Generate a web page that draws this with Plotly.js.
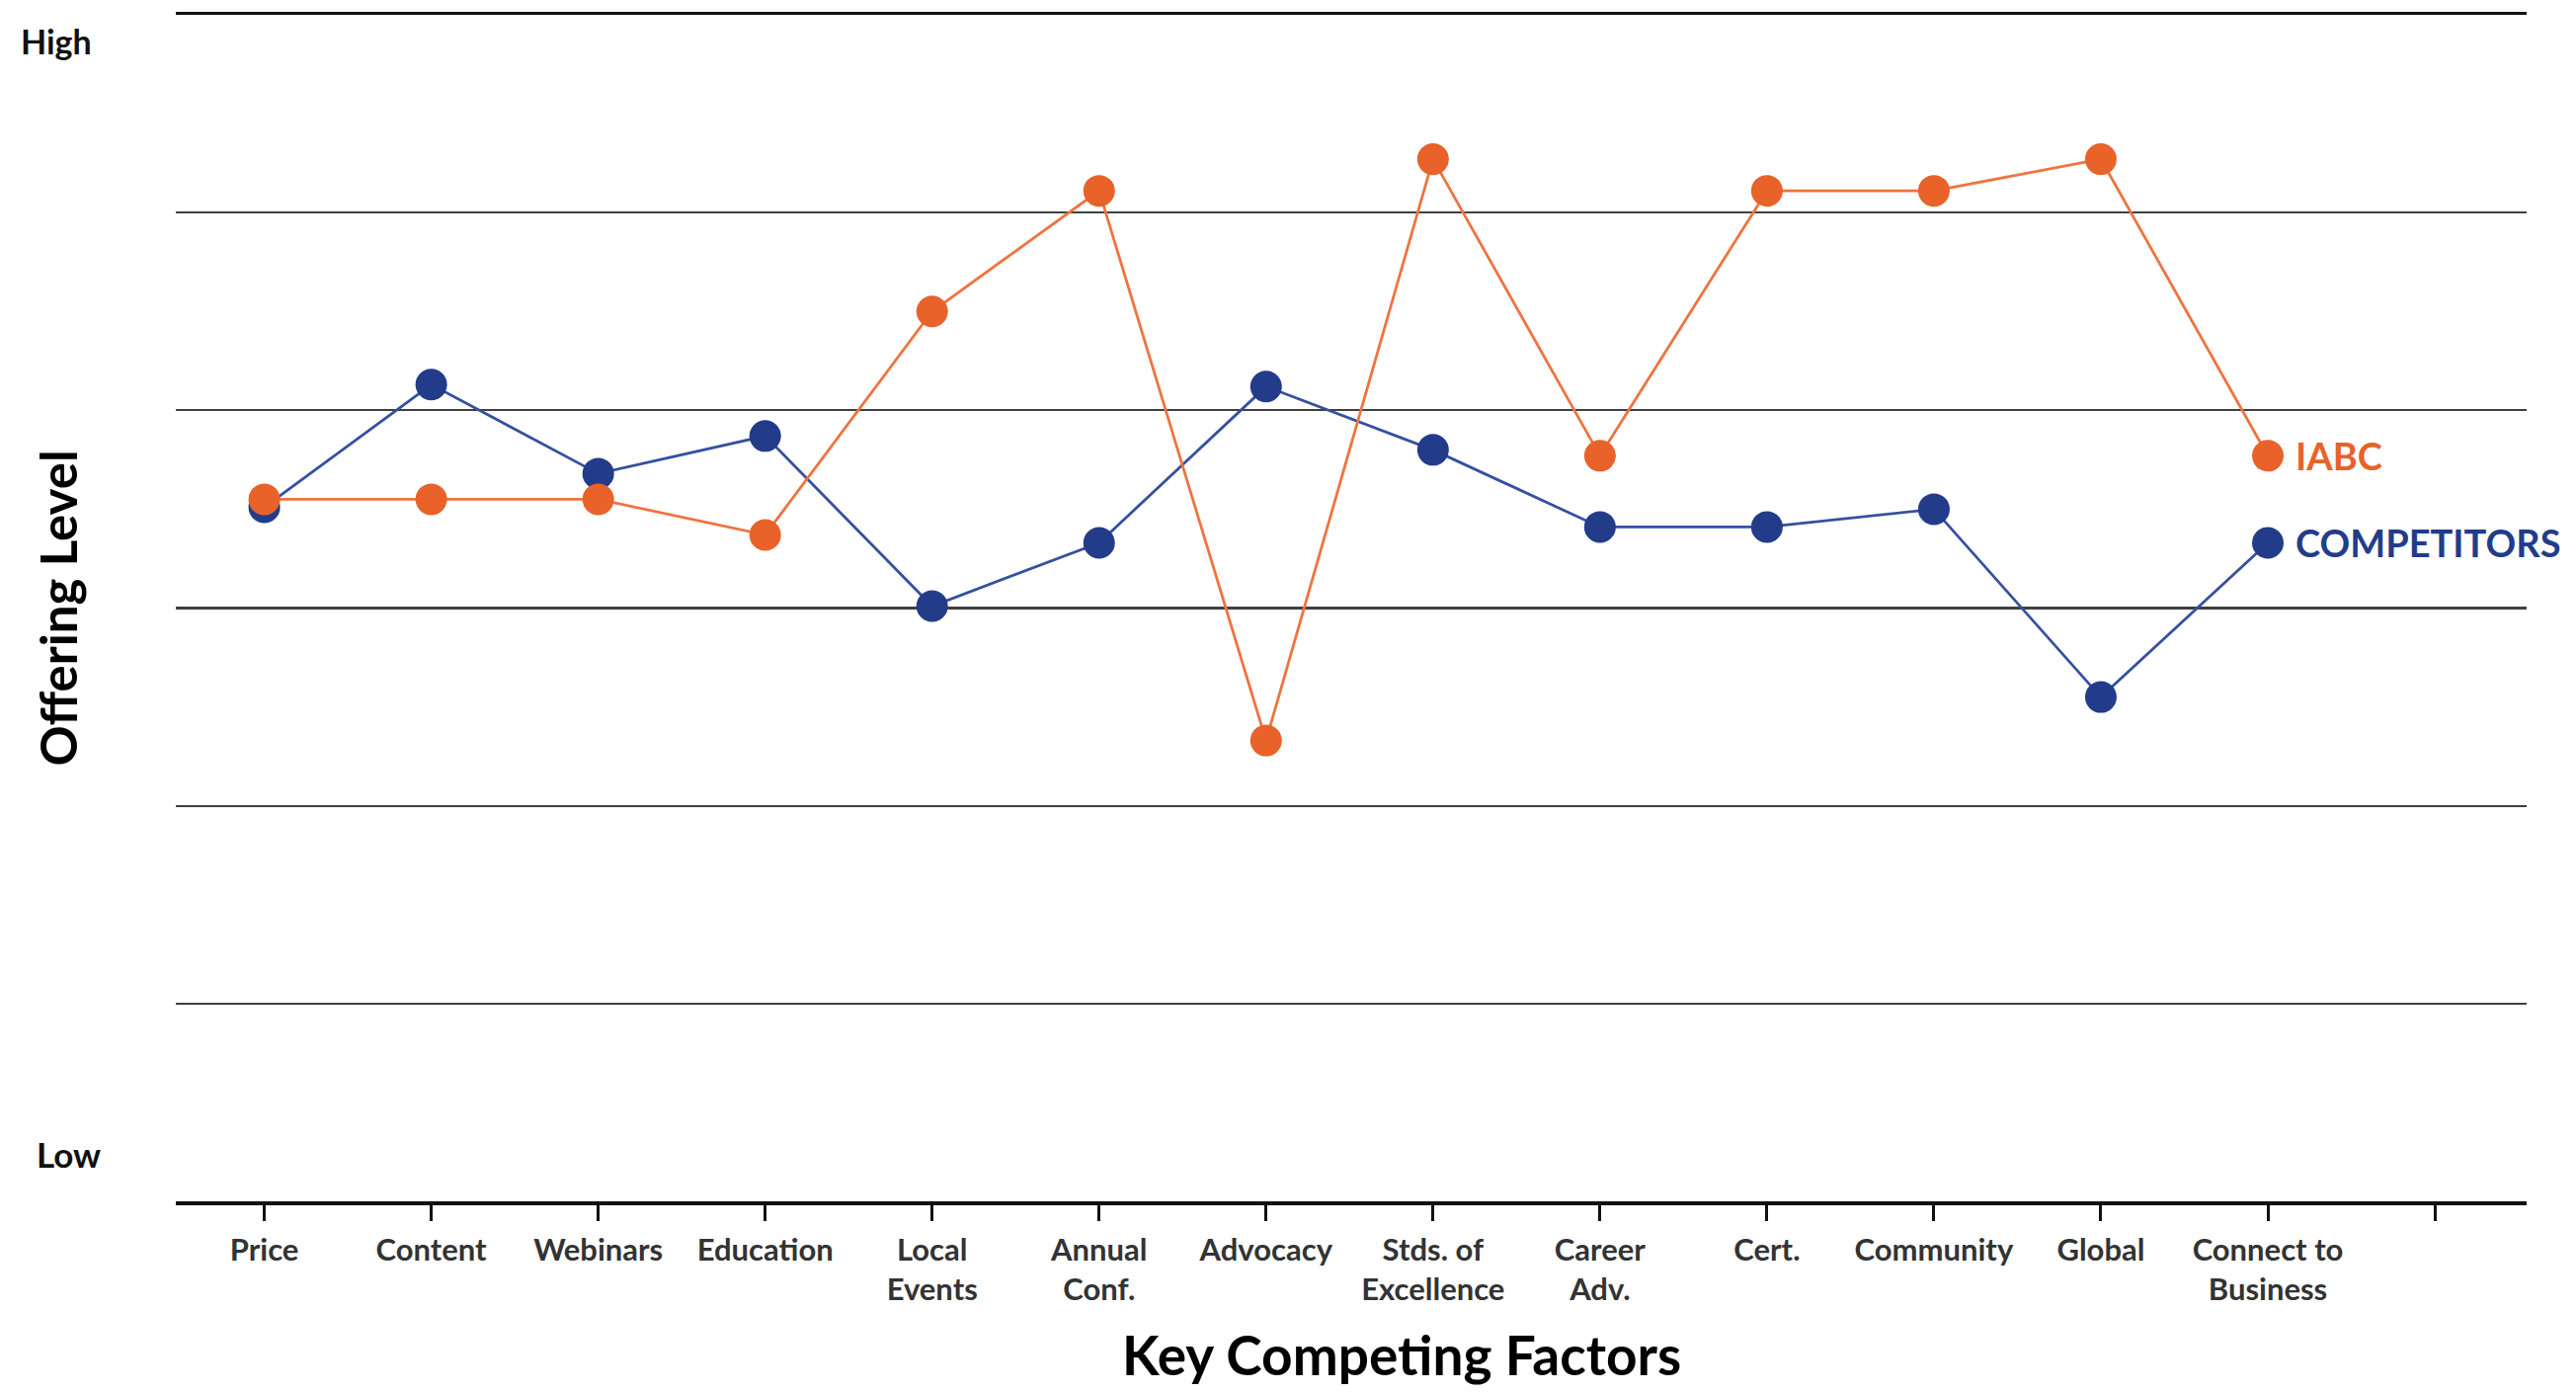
<!DOCTYPE html>
<html>
<head>
<meta charset="utf-8">
<script src="https://cdn.plot.ly/plotly-3.0.1.min.js"></script>
<style>
  html, body { margin: 0; padding: 0; background: #ffffff; }
  #chart { width: 2608px; height: 1409px; }
</style>
</head>
<body>
<div id="chart"></div>
<script>
// ---- data ----
const factors = ["Price", "Content", "Webinars", "Education", "Local<br>Events", "Annual<br>Conf.",
                 "Advocacy", "Stds. of<br>Excellence", "Career<br>Adv.", "Cert.", "Community",
                 "Global", "Connect to<br>Business"];
const tickPositions = [0, 1, 2, 3, 4, 5, 6, 7, 8, 9, 10, 11, 12, 13];
const tickLabels = factors.concat([""]);
const iabc =        [3.55, 3.55, 3.55, 3.37, 4.50, 5.11, 2.33, 5.27, 3.77, 5.11, 5.11, 5.27, 3.77];
const competitors = [3.51, 4.13, 3.68, 3.87, 3.01, 3.33, 4.12, 3.80, 3.41, 3.41, 3.50, 2.55, 3.33];
const seriesNames = ["IABC", "COMPETITORS"];
const levelLabels = ["High", "Low"];
const levelValues = [5.87, 0.24];
const xTitle = "Key Competing Factors";
const yTitle = "Offering Level";

const xIdx = factors.map((_, i) => i);

const ORANGE = "#E8622A";
const ORANGE_LINE = "#EE7440";
const BLUE = "#223C8A";
const BLUE_LINE = "#3550A0";

const traces = [
  {
    x: xIdx, y: competitors, name: seriesNames[1], type: "scatter", mode: "lines+markers",
    line: { color: BLUE_LINE, width: 2.8 },
    marker: { color: BLUE, size: 32 },
    hoverinfo: "x+y"
  },
  {
    x: xIdx, y: iabc, name: seriesNames[0], type: "scatter", mode: "lines+markers",
    line: { color: ORANGE_LINE, width: 2.8 },
    marker: { color: ORANGE, size: 32 },
    hoverinfo: "x+y"
  }
];

const last = factors.length - 1;
const annotations = [
  {
    x: last, y: iabc[last], xref: "x", yref: "y", text: seriesNames[0],
    showarrow: false, xanchor: "left", yanchor: "middle", xshift: 26,
    font: { family: "Lato, 'Open Sans', sans-serif", size: 38, color: ORANGE, weight: 700 }
  },
  {
    x: last, y: competitors[last], xref: "x", yref: "y", text: seriesNames[1],
    showarrow: false, xanchor: "left", yanchor: "middle", xshift: 26,
    font: { family: "Lato, 'Open Sans', sans-serif", size: 38, color: BLUE, weight: 700 }
  },
  {
    x: -0.067, y: levelValues[0], xref: "paper", yref: "y", text: levelLabels[0],
    showarrow: false, xanchor: "left", yanchor: "middle",
    font: { family: "Lato, sans-serif", size: 34, color: "#111111", weight: 700 }
  },
  {
    x: -0.060, y: levelValues[1], xref: "paper", yref: "y", text: levelLabels[1],
    showarrow: false, xanchor: "left", yanchor: "middle",
    font: { family: "Lato, sans-serif", size: 35, color: "#111111", weight: 700 }
  },
  {
    x: 0.5214, y: -0.129, xref: "paper", yref: "paper", text: xTitle,
    showarrow: false, xanchor: "center", yanchor: "middle",
    font: { family: "Lato, sans-serif", size: 55, color: "#000000", weight: 700 }
  }
];

const layout = {
  width: 2608, height: 1409,
  margin: { l: 178, r: 50, t: 15, b: 193 },
  paper_bgcolor: "#ffffff", plot_bgcolor: "#ffffff",
  showlegend: false,
  font: { family: "Lato, 'Open Sans', sans-serif" },
  xaxis: {
    range: [-0.53, 13.55],
    tickmode: "array", tickvals: tickPositions, ticktext: tickLabels,
    showgrid: false, zeroline: false,
    showline: true, mirror: true, linecolor: "#111111", linewidth: 3.5,
    ticks: "outside", ticklen: 16, tickwidth: 3, tickcolor: "#111111",
    ticklabelstandoff: 3,
    tickfont: { family: "Lato, sans-serif", size: 31, color: "#333333", weight: 700 },
    automargin: false, fixedrange: true
  },
  yaxis: {
    range: [0, 6],
    dtick: 1, tick0: 0,
    showgrid: true, gridcolor: "#404040", gridwidth: 2.2,
    zeroline: false, showline: false,
    showticklabels: false, ticks: "",
    title: {
      text: yTitle, standoff: 82,
      font: { family: "Lato, sans-serif", size: 51, color: "#000000", weight: 700 }
    },
    automargin: false, fixedrange: true
  },
  annotations: annotations
};

Plotly.newPlot("chart", traces, layout, { staticPlot: true, displayModeBar: false });
</script>
</body>
</html>
